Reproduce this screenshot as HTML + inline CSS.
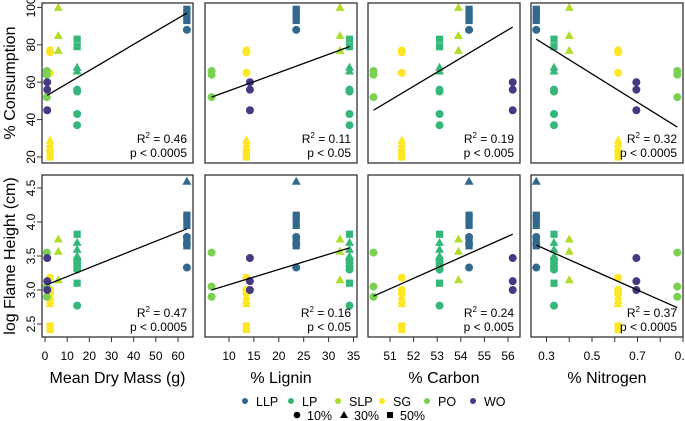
<!DOCTYPE html>
<html><head><meta charset="utf-8"><style>
body{margin:0;background:#fff;}
svg{display:block;font-family:"Liberation Sans",Arial,sans-serif;}
</style></head><body>
<svg id="c" width="685" height="421" viewBox="0 0 685 421"></svg>
<script>
const species = ["LLP","LP","SLP","SG","PO","WO"];
const speciesColors = ["#31688e","#35b779","#b0dc2c","#fde725","#7ad151","#443983"];
const massX = [64, 14.5, 6, 2.3, 0.8, 1];
const ligninX = [23.5, 34.2, 32.3, 13.5, 6.5, 14.2];
const carbonX = [54.35, 53.1, 53.9, 51.5, 50.3, 56.2];
const nitrogenX = [0.255, 0.333, 0.40, 0.615, 0.875, 0.695];
const consumption = [
 [0,2,99],[0,2,97],[0,2,95],[0,2,93],[0,0,88],
 [1,2,83],[1,2,79],[1,1,68],[1,1,66],[1,0,56],[1,0,55],[1,0,43],[1,0,37],
 [2,1,100],[2,1,85],[2,1,77],
 [3,0,77],[3,0,76],[3,0,65],[3,1,29],[3,1,27],[3,1,25],[3,2,22],[3,2,20],
 [4,0,66],[4,0,64],[4,0,52],
 [5,0,60],[5,0,56],[5,0,45]];
const flame = [
 [0,1,4.6],[0,2,4.1],[0,2,4.05],[0,2,3.95],[0,2,3.7],[0,2,3.65],[0,0,3.78],[0,0,3.68],[0,0,3.33],
 [1,2,3.82],[1,2,3.1],[1,1,3.7],[1,1,3.6],[1,1,3.5],[1,0,3.45],[1,0,3.4],[1,0,3.35],[1,0,3.3],[1,0,2.77],
 [2,1,3.75],[2,1,3.57],[2,1,3.15],
 [3,0,3.18],[3,0,3.0],[3,0,2.95],[3,1,2.9],[3,1,2.85],[3,1,2.8],[3,2,2.47],[3,2,2.42],
 [4,0,3.55],[4,0,3.05],[4,0,2.9],
 [5,0,3.47],[5,0,3.13],[5,0,3.0]];
const topLines = [[1,53,64,97],[6.5,52,34.2,79],[50.3,45,56.2,89.5],[0.255,83,0.875,36]];
const botLines = [[1,3.08,64,3.9],[6.5,3.0,34.2,3.62],[50.3,2.91,56.2,3.82],[0.255,3.66,0.875,2.74]];
const topStats = [["0.46","p < 0.0005"],["0.11","p < 0.05"],["0.19","p < 0.005"],["0.32","p < 0.0005"]];
const botStats = [["0.47","p < 0.0005"],["0.16","p < 0.05"],["0.24","p < 0.005"],["0.37","p < 0.0005"]];
const xTitles = ["Mean Dry Mass (g)","% Lignin","% Carbon","% Nitrogen"];
const xTickVals = [[0,10,20,30,40,50,60],[10,15,20,25,30,35],[51,52,53,54,55,56],[0.3,0.4,0.5,0.6,0.7,0.8,0.9]];
const xTickLabels = [["0","10","20","30","40","50","60"],["10","15","20","25","30","35"],["51","52","53","54","55","56"],["0.3","","0.5","","0.7","","0.9"]];
const topYTicks = [20,40,60,80,100];
const botYTicks = [2.5,3.0,3.5,4.0,4.5];
const botYLabels = ["2.5","3.0","3.5","4.0","4.5"];

const NS="http://www.w3.org/2000/svg";
const svg=document.getElementById('c');
function mk(tag,attrs,parent){const e=document.createElementNS(NS,tag);for(const k in attrs)e.setAttribute(k,attrs[k]);(parent||svg).appendChild(e);return e;}

const panelsX=[[42,193],[205,357],[368,520],[531,683]];
const xScales=[v=>45+(v-0)*2.217, v=>229+(v-10)*4.98, v=>390+(v-51)*23.6, v=>546.5+(v-0.3)*227.5];
const xVals=[massX,ligninX,carbonX,nitrogenX];
const yTop=v=>157-(v-20)*1.87;
const yBot=v=>324-(v-2.5)*68;
const rows=[{y0:3,y1:163,ys:yTop,data:consumption,lines:topLines,stats:topStats,name:'consumption'},
            {y0:175,y1:337,ys:yBot,data:flame,lines:botLines,stats:botStats,name:'flame-height'}];

function marker(shape,x,y,color,g){
  let e;
  if(shape===0)e=mk('circle',{cx:x,cy:y,r:4,fill:color},g);
  else if(shape===1)e=mk('polygon',{points:`${x},${y-4.5} ${x-4.5},${y+3.5} ${x+4.5},${y+3.5}`,fill:color},g);
  else e=mk('rect',{x:x-3.6,y:y-3.6,width:7.2,height:7.2,fill:color},g);
  return e;
}

rows.forEach((row,ri)=>{
  for(let p=0;p<4;p++){
    const [x0,x1]=panelsX[p];
    const g=mk('g',{});
    
    
    row.data.forEach(d=>{
      const m=marker(d[1],xScales[p](xVals[p][d[0]]),row.ys(d[2]),speciesColors[d[0]],g);
      
      
    });
    const L=row.lines[p];
    const ln=mk('line',{x1:xScales[p](L[0]),y1:row.ys(L[1]),x2:xScales[p](L[2]),y2:row.ys(L[3]),stroke:'#000','stroke-width':1.3},g);
    
    
    const fr=mk('rect',{x:x0,y:row.y0,width:x1-x0,height:row.y1-row.y0,fill:'none',stroke:'#333','stroke-width':1.3},g);
    
    
    const st=row.stats[p];
    const t1=mk('text',{x:x1-6,y:row.y1-20,'font-size':12,'text-anchor':'end',fill:'#000'},g);
    t1.innerHTML=`R<tspan dy="-5" font-size="8">2</tspan><tspan dy="5"> = ${st[0]}</tspan>`;
    
    
    const t2=mk('text',{x:x1-6,y:row.y1-6,'font-size':12,'text-anchor':'end',fill:'#000'},g);
    t2.textContent=st[1];
    
    
    if(ri===1){
      xTickVals[p].forEach((v,i)=>{
        const x=xScales[p](v);
        mk('line',{x1:x,y1:337,x2:x,y2:342,stroke:'#333'},g);
        if(xTickLabels[p][i]){
          const tl=mk('text',{x:x,y:360,'font-size':12,'text-anchor':'middle',fill:'#000'},g);
          tl.textContent=xTickLabels[p][i];
          
          
        }
      });
      const xt=mk('text',{x:(x0+x1)/2,y:383,'font-size':16,'text-anchor':'middle',fill:'#000'});
      xt.textContent=xTitles[p];
      
      
    }
  }
});
function yAxis(ticks,labels,ys){
  ticks.forEach((v,i)=>{
    const y=ys(v);
    mk('line',{x1:37,y1:y,x2:42,y2:y,stroke:'#333'});
    const t=mk('text',{x:35,y:y,'font-size':12,'text-anchor':'middle',fill:'#000',transform:`rotate(-90 35 ${y})`});
    t.textContent=labels[i];
    
    
  });
}
yAxis(topYTicks,topYTicks.map(String),yTop);
yAxis(botYTicks,botYLabels,yBot);
let yt=mk('text',{x:15,y:83,'font-size':16,'text-anchor':'middle',fill:'#000',transform:'rotate(-90 15 83)'});
yt.textContent='% Consumption';


yt=mk('text',{x:15,y:256,'font-size':16,'text-anchor':'middle',fill:'#000',transform:'rotate(-90 15 256)'});
yt.textContent='log Flame Height (cm)';


const legDotX=[245,291,338,382,427,473];
const legTextX=[256,302,349,393,438,484];
species.forEach((s,i)=>{
  const g=mk('g',{});
  
  
  mk('circle',{cx:legDotX[i],cy:401,r:3,fill:speciesColors[i]},g);
  const t=mk('text',{x:legTextX[i],y:406,'font-size':12.5,fill:'#000'},g);
  t.textContent=s;
});
const shapeLeg=[[297,0,'10%'],[344,1,'30%'],[390,2,'50%']];
shapeLeg.forEach(d=>{
  const g=mk('g',{});
  
  
  if(d[1]===0)mk('circle',{cx:d[0],cy:415,r:3.3,fill:'#000'},g);
  else if(d[1]===1)mk('polygon',{points:`${d[0]},${411} ${d[0]-4},${418} ${d[0]+4},${418}`,fill:'#000'},g);
  else mk('rect',{x:d[0]-3,y:412,width:6,height:6,fill:'#000'},g);
  const t=mk('text',{x:d[0]+10,y:420,'font-size':12.5,fill:'#000'},g);
  t.textContent=d[2];
});
</script>
</body></html>
